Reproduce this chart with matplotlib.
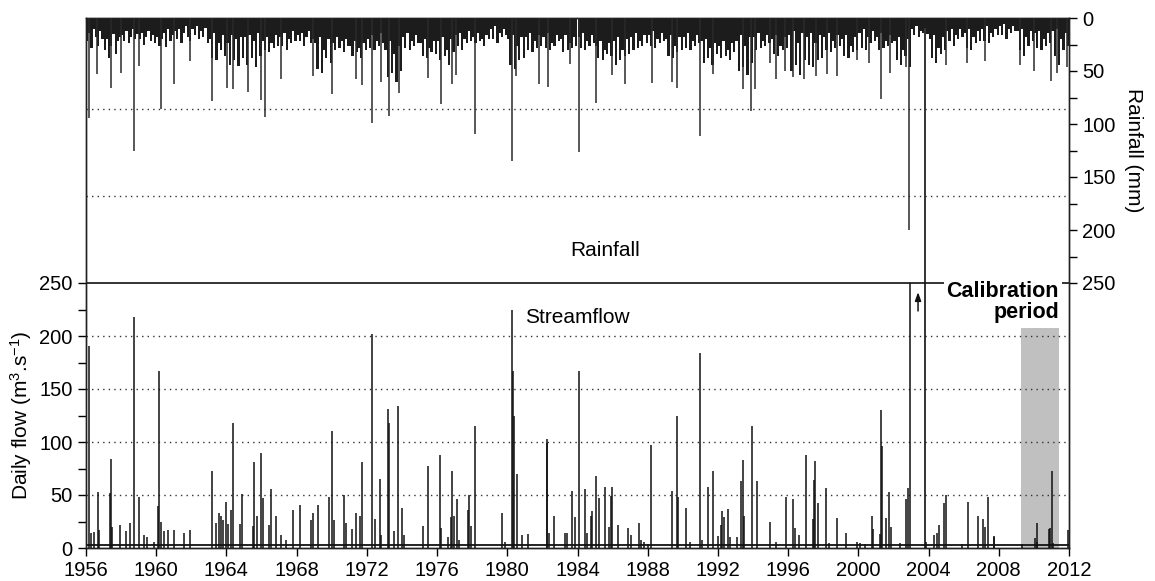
import numpy as np
import matplotlib
matplotlib.use('Agg')
import matplotlib.pyplot as plt
from matplotlib.patches import Rectangle
from matplotlib.ticker import FixedLocator

plt.rcParams['font.family'] = ['Liberation Sans', 'DejaVu Sans']
plt.rcParams['mathtext.default'] = 'regular'

# ---- data ----
# streamflow peaks (decimal year, m3/s)
flow_years = [1956.17, 1956.30, 1956.45, 1956.67, 1956.75, 1957.35, 1957.40, 1957.47, 1957.94,
              1958.30, 1958.50, 1958.75, 1959.02, 1959.30, 1959.50, 1959.90, 1960.12, 1960.16,
              1960.30, 1960.45, 1960.65, 1961.03, 1961.60, 1961.90, 1963.18, 1963.40, 1963.55,
              1963.70, 1963.80, 1963.98, 1964.10, 1964.25, 1964.39, 1964.75, 1964.90, 1965.50,
              1965.59, 1965.75, 1965.95, 1966.10, 1966.40, 1966.54, 1966.80, 1967.10, 1967.40,
              1967.81, 1968.21, 1968.80, 1968.95, 1969.23, 1969.84, 1970.03, 1970.15, 1970.70,
              1970.80, 1971.15, 1971.36, 1971.60, 1971.70, 1972.27, 1972.45, 1972.73, 1972.80,
              1973.20, 1973.27, 1973.55, 1973.79, 1974.00, 1974.10, 1975.20, 1975.48, 1976.17,
              1976.25, 1976.60, 1976.80, 1976.83, 1976.95, 1977.13, 1977.25, 1977.74, 1977.82,
              1977.95, 1978.18, 1979.72, 1979.85, 1980.25, 1980.30, 1980.37, 1980.53, 1980.85,
              1981.20, 1982.24, 1982.28, 1982.35, 1982.68, 1983.30, 1983.40, 1983.70, 1983.85,
              1984.08, 1984.43, 1984.55, 1984.75, 1984.85, 1985.03, 1985.20, 1985.57, 1985.80,
              1985.90, 1985.98, 1986.30, 1986.90, 1987.05, 1987.50, 1987.60, 1987.80, 1988.00,
              1988.20, 1989.38, 1989.65, 1989.70, 1990.16, 1990.40, 1991.00, 1991.10, 1991.43,
              1991.70, 1992.00, 1992.20, 1992.25, 1992.35, 1992.55, 1992.70, 1993.10, 1993.30,
              1993.45, 1993.50, 1993.92, 1994.24, 1994.97, 1995.30, 1995.86, 1996.30, 1996.38,
              1996.60, 1997.00, 1997.40, 1997.50, 1997.53, 1997.70, 1998.14, 1998.30, 1998.80,
              1999.30, 1999.90, 2000.10, 2000.40, 2000.76, 2000.85, 2001.25, 2001.29, 2001.33,
              2001.60, 2001.76, 2001.85, 2002.40, 2002.69, 2002.84, 2002.93, 2003.85, 2004.30,
              2004.50, 2004.60, 2004.90, 2004.99, 2005.90, 2006.23, 2006.83, 2007.10, 2007.20,
              2007.37, 2007.70, 2007.75, 2009.30, 2010.06, 2010.16, 2010.20, 2010.88, 2010.92,
              2011.05, 2011.10, 2011.93]
flow_peaks = [191, 14, 15, 53, 17, 52, 84, 20, 22,
              16, 24, 218, 48, 12, 10, 6, 40, 167,
              25, 16, 17, 17, 14, 17, 73, 24, 33,
              30, 26, 43, 23, 36, 118, 23, 51, 21,
              81, 30, 90, 47, 22, 56, 30, 12, 8,
              36, 41, 26, 33, 41, 48, 110, 26, 50,
              24, 18, 33, 30, 81, 202, 27, 65, 12,
              131, 118, 16, 134, 38, 12, 21, 77, 88,
              19, 10, 29, 73, 30, 46, 8, 36, 50,
              21, 115, 33, 6, 225, 167, 125, 70, 12,
              13, 99, 103, 14, 30, 14, 14, 54, 29,
              167, 56, 14, 30, 35, 68, 47, 58, 20,
              49, 58, 22, 19, 12, 24, 8, 6, 4,
              97, 54, 125, 48, 38, 6, 184, 8, 58,
              73, 11, 22, 35, 29, 37, 10, 10, 63,
              83, 30, 115, 63, 25, 6, 48, 46, 19,
              12, 88, 27, 64, 82, 42, 57, 5, 28,
              14, 6, 5, 4, 30, 18, 13, 130, 96,
              28, 53, 20, 5, 46, 57, 250, 6, 12,
              14, 22, 42, 50, 4, 43, 30, 27, 20,
              48, 10, 11, 4, 9, 24, 6, 18, 19,
              73, 5, 17]
baseflow = 3

# rainfall: background per year (8 values per year, mm), 1956-2011
rain_start = 1956
rain_bg = [
    [22, 14, 28, 10, 18, 26, 12, 20], [30, 20, 38, 26, 15, 34, 22, 18],
    [16, 22, 12, 24, 18, 10, 20, 15], [20, 14, 25, 18, 12, 22, 16, 24],
    [18, 26, 20, 14, 27, 10, 22, 16], [12, 20, 10, 24, 14, 8, 18, 22],
    [10, 16, 8, 20, 12, 18, 9, 24], [20, 38, 14, 40, 24, 30, 16, 36],
    [24, 44, 16, 40, 20, 45, 18, 38], [18, 44, 16, 38, 22, 46, 14, 36],
    [22, 30, 18, 32, 24, 28, 16, 26], [18, 26, 14, 30, 20, 24, 12, 22],
    [16, 22, 14, 26, 18, 12, 24, 20], [24, 48, 18, 52, 30, 38, 20, 42],
    [24, 30, 18, 28, 22, 32, 20, 26], [26, 36, 22, 32, 28, 38, 24, 30],
    [20, 28, 16, 30, 22, 26, 14, 24], [30, 56, 22, 52, 34, 60, 26, 50],
    [18, 28, 14, 30, 22, 26, 16, 24], [24, 36, 20, 38, 28, 32, 22, 34],
    [22, 40, 18, 36, 30, 44, 20, 32], [16, 26, 14, 30, 20, 24, 12, 22],
    [18, 24, 14, 22, 20, 26, 16, 20], [10, 20, 8, 24, 14, 18, 10, 16],
    [20, 44, 16, 48, 26, 40, 18, 38], [18, 30, 14, 32, 22, 28, 16, 26],
    [18, 28, 14, 30, 24, 26, 16, 22], [20, 32, 16, 30, 24, 28, 18, 26],
    [18, 28, 14, 30, 22, 26, 16, 24], [26, 38, 22, 40, 30, 34, 24, 36],
    [22, 44, 18, 40, 30, 36, 20, 34], [18, 30, 14, 28, 22, 26, 16, 24],
    [16, 26, 12, 28, 20, 24, 14, 22], [20, 36, 16, 38, 26, 32, 18, 30],
    [18, 28, 14, 30, 22, 26, 16, 24], [22, 42, 20, 38, 28, 44, 24, 34],
    [26, 38, 22, 36, 30, 40, 24, 32], [22, 50, 16, 46, 26, 54, 18, 42],
    [18, 30, 14, 28, 22, 26, 16, 24], [20, 34, 16, 36, 26, 30, 18, 28],
    [16, 50, 12, 44, 24, 54, 14, 40], [18, 44, 14, 46, 24, 40, 16, 38],
    [18, 30, 14, 32, 22, 28, 16, 26], [20, 36, 16, 38, 26, 32, 18, 30],
    [14, 28, 10, 30, 18, 24, 12, 22], [18, 30, 14, 28, 22, 26, 16, 24],
    [22, 40, 18, 44, 30, 36, 20, 46], [10, 16, 8, 18, 12, 14, 9, 15],
    [20, 38, 16, 42, 28, 34, 18, 30], [12, 22, 10, 26, 16, 20, 10, 18],
    [14, 28, 10, 30, 18, 24, 12, 22], [10, 22, 8, 24, 14, 18, 10, 16],
    [8, 16, 6, 20, 10, 14, 8, 12], [12, 30, 10, 36, 18, 26, 12, 22],
    [14, 28, 12, 30, 20, 26, 14, 24], [12, 36, 10, 44, 20, 30, 14, 26],
]
# larger rainfall events (decimal year, mm)
rain_years = [1956.17, 1956.65, 1957.42, 1957.97, 1958.75, 1959.00, 1960.25, 1961.00, 1961.90,
              1963.20, 1964.01, 1964.39, 1965.25, 1965.95, 1966.20, 1967.11, 1968.95, 1970.00,
              1971.36, 1971.74, 1972.30, 1972.79, 1973.28, 1973.85, 1975.50, 1976.20, 1976.86,
              1977.10, 1978.16, 1980.25, 1980.50, 1981.83, 1982.30, 1983.60, 1984.10, 1985.05,
              1985.97, 1986.70, 1988.22, 1989.40, 1989.65, 1990.98, 1991.70, 1993.40, 1993.86,
              1994.10, 1994.95, 1995.29, 1995.82, 1996.30, 1996.92, 1997.60, 1998.19, 1998.76,
              1999.90, 2000.60, 2001.29, 2001.80, 2002.70, 2002.86, 2004.97, 2006.20, 2007.20,
              2009.20, 2010.00, 2011.00, 2011.30, 2011.90]
rain_peaks = [94, 53, 66, 52, 125, 45, 86, 62, 41,
              78, 66, 67, 70, 77, 93, 58, 55, 72,
              58, 63, 99, 60, 92, 71, 57, 81, 62,
              54, 109, 135, 55, 62, 65, 43, 126, 80,
              54, 62, 61, 60, 66, 111, 53, 67, 88,
              67, 42, 58, 50, 56, 58, 55, 53, 55,
              40, 42, 76, 52, 46, 200, 44, 42, 41,
              44, 50, 59, 52, 46]

gap_year = 2003.8
calib_start, calib_end, calib_top = 2009.26, 2011.44, 208

fig = plt.figure(figsize=(11.55, 5.81), dpi=100)
ax = fig.add_axes([86/1155, 33/581, 983/1155, 530/581])
ax2 = ax.twinx()

# streamflow
ax.add_patch(Rectangle((calib_start, 0), calib_end - calib_start, calib_top,
                       facecolor='#c0c0c0', edgecolor='none', zorder=1))
ax.vlines(flow_years, 0, flow_peaks, color='#111111', lw=1.1, zorder=3)
ax.axhline(baseflow, color='#111111', lw=1.3, zorder=3)
ax.axhline(250, color='#111111', lw=1.2, zorder=3)
for g in [50, 100, 150, 200]:
    ax.axhline(g, color='#333333', lw=1, ls=(0, (1, 3)), zorder=2)
ax.axvline(gap_year, color='#111111', lw=1.2, zorder=3)
ax.annotate('', xy=(2003.4, 244), xytext=(2003.4, 221),
            arrowprops=dict(arrowstyle='-|>,head_length=0.5,head_width=0.18',
                            color='#111111', lw=1.1))

ax.set_xlim(1956, 2012)
ax.set_ylim(0, 500)
ax.set_xticks(np.arange(1956, 2013, 4))
ax.set_yticks(np.arange(0, 251, 50))
ax.yaxis.set_minor_locator(FixedLocator(np.arange(25, 250, 50)))
ax.tick_params(axis='both', which='both', direction='out', labelsize=14.5, length=6, width=1)
ax.set_ylabel(r'Daily flow (m$^3$.s$^{-1}$)', fontsize=15)
ax.yaxis.set_label_coords(-0.053, 0.25)

ax.text(1984.0, 217, 'Streamflow', fontsize=15, ha='center', va='center')
ax.text(1985.6, 281, 'Rainfall', fontsize=15, ha='center', va='center')

# rainfall
bg = np.array(rain_bg, dtype=float)
nper = bg.shape[1]
bx = rain_start + (np.arange(bg.size) + 0.5) / nper
ax2.bar(bx, bg.ravel(), width=1.0 / nper, color='#1c1c1c', edgecolor='none', zorder=2)
ax2.vlines(rain_years, 0, rain_peaks, color='#2a2a2a', lw=1.1, zorder=3)
for g in [86, 168]:
    ax2.axhline(g, color='#333333', lw=1, ls=(0, (1, 3)), zorder=1)
ax2.set_ylim(500, 0)
ax2.set_yticks(np.arange(0, 251, 50))
ax2.yaxis.set_minor_locator(FixedLocator(np.arange(25, 250, 50)))
ax2.tick_params(axis='y', which='both', direction='out', labelsize=14.5, length=6, width=1)
ax2.set_ylabel('Rainfall (mm)', fontsize=15, rotation=270, y=0.75, labelpad=20)

ax2.text(2011.43, 232, 'Calibration\nperiod', transform=ax.transData, fontsize=15.5,
         fontweight='bold', ha='right', va='center', multialignment='right',
         linespacing=1.0, zorder=10,
         bbox=dict(facecolor='white', edgecolor='none', pad=2))

for a in (ax, ax2):
    for s in a.spines.values():
        s.set_color('#222222')
        s.set_linewidth(1)

fig.savefig('out.png', dpi=100)
